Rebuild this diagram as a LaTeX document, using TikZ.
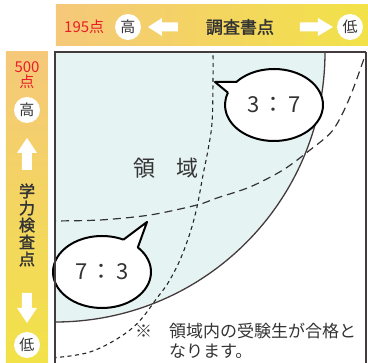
\documentclass[tikz,border=0pt]{standalone}
\usepackage{fontspec}
\setmainfont{Noto Sans CJK JP}[AutoFakeBold=2]
\usepackage{xcolor}
\usepackage{tikz}
\usetikzlibrary{positioning}
\definecolor{barorange}{RGB}{245,200,122}
\definecolor{baryellow}{RGB}{242,226,72}
\definecolor{regionblue}{RGB}{230,243,243}
\definecolor{scorered}{RGB}{232,30,40}
\definecolor{inkgray}{RGB}{51,51,51}
\definecolor{edgegray}{RGB}{68,60,60}
\tikzstyle{score} = [text=scorered, font=\fontsize{15}{15}\selectfont, inner sep=0pt]
\tikzstyle{badge} = [circle, fill=white, minimum size=26pt, inner sep=0pt, text=inkgray, font=\fontsize{15}{15}\selectfont]
\tikzstyle{heading} = [text=inkgray, font=\bfseries\fontsize{17}{17}\selectfont, inner sep=0pt]

\begin{document}
\begin{tikzpicture}[x=1pt, y=-1pt]
    \tikzstyle{dotcurve} = [dash pattern=on 4pt off 3.5pt, line width=1.1pt, black!85]
    \tikzstyle{dashcurve} = [dash pattern=on 8pt off 5pt, line width=1.2pt, black!80]
    \tikzstyle{bubbleline} = [line width=2pt, black, line join=round]
    \tikzstyle{ratio} = [text=inkgray, font=\fontsize{22}{22}\selectfont, inner sep=0pt]
    \useasboundingbox (0,0) rectangle (368,363);

    % Bars
    \shade[left color=barorange, right color=baryellow] (56,5) rectangle (368,46);
    \shade[top color=barorange, bottom color=baryellow] (6,52) rectangle (48,363);

    % Region
    \fill[regionblue] (55,52) -- (325,52) arc[start angle=0, end angle=90, radius=270] -- cycle;
    \draw[edgegray, line width=1.3pt] (325,52) arc[start angle=0, end angle=90, radius=270];

    % Ratio curves
    \begin{scope}
        \clip (55,52) rectangle (366,363);
        \draw[dotcurve] plot[smooth, tension=0.6] coordinates {(213,48) (213,83) (212,123) (208,150) (203,175) (197,207) (190,233) (180,260) (168,283) (157,298) (143,317) (130,330) (110,343) (90,352) (70,356) (50,358)};
        \draw[dashcurve] plot[smooth] coordinates {(368,47) (350,97) (333,130) (310,150) (283,170) (250,187) (217,198) (197,205) (150,215) (100,220) (50,221)};
    \end{scope}

    % Bubbles
    \coordinate (bubbleA) at (274,105);
    \coordinate (tipA) at (215,82);
    \path (bubbleA) ++(220:49 and 36) coordinate (baseA1);
    \path (bubbleA) ++(200:49 and 36) coordinate (baseA2);
    \fill[white] (bubbleA) ellipse [x radius=49, y radius=36];
    \fill[white] (tipA) -- (baseA1) -- (baseA2) -- cycle;
    \draw[bubbleline] (baseA2) -- (tipA) -- (baseA1) arc[start angle=220, end angle=560, x radius=49, y radius=36];
    \node (ratioA) [ratio] at (bubbleA) {3\,：\,7};

    \coordinate (bubbleB) at (102,272);
    \coordinate (tipB) at (147,222);
    \path (bubbleB) ++(317:49 and 36) coordinate (baseB1);
    \path (bubbleB) ++(296:49 and 36) coordinate (baseB2);
    \fill[white] (bubbleB) ellipse [x radius=49, y radius=36];
    \fill[white] (tipB) -- (baseB1) -- (baseB2) -- cycle;
    \draw[bubbleline] (baseB2) -- (tipB) -- (baseB1) arc[start angle=317, end angle=656, x radius=49, y radius=36];
    \node (ratioB) [ratio] at (bubbleB) {7\,：\,3};

    % Frame
    \draw[edgegray, line width=2pt] (55,366) -- (55,52) -- (366,52);
    \draw[edgegray, line width=1.3pt] (366,52) -- (366,366);

    % Nodes
    \node (topscore) [score, anchor=west] at (64,27) {195点};
    \node (tophigh) [badge] at (128,27) {高};
    \node (toptitle) [heading] at (240,27) {調査書点};
    \node (toplow) [badge] at (350,27) {低};
    \node (sidescore) [score, align=center, font=\fontsize{15}{15}\selectfont] at (27,75) {500\\点};
    \node (sidehigh) [badge] at (27,110) {高};
    \node (sidetitle) [heading, align=center, font=\bfseries\fontsize{16}{17}\selectfont] at (27,225) {学\\力\\検\\査\\点};
    \node (sidelow) [badge] at (27,345) {低};
    \node (region) [text=inkgray, font=\fontsize{22}{22}\selectfont, inner sep=0pt] at (166,168) {領　域};
    \node (note) [anchor=north west, align=left, text=inkgray, font=\fontsize{17}{20}\selectfont, inner sep=0pt] at (135,323) {※　領域内の受験生が合格と\\\hspace*{2em}なります。};

    % Arrows
    \fill[white] (148,27) -- (162,18) -- (162,22.5) -- (178,22.5) -- (178,31.5) -- (162,31.5) -- (162,36) -- cycle;
    \fill[white] (333,27) -- (318,18) -- (318,22.5) -- (300,22.5) -- (300,31.5) -- (318,31.5) -- (318,36) -- cycle;
    \fill[white] (27,138) -- (37,153) -- (32,153) -- (32,170) -- (22,170) -- (22,153) -- (17,153) -- cycle;
    \fill[white] (27,323) -- (37,308) -- (32,308) -- (32,293) -- (22,293) -- (22,308) -- (17,308) -- cycle;
\end{tikzpicture}
\end{document}
